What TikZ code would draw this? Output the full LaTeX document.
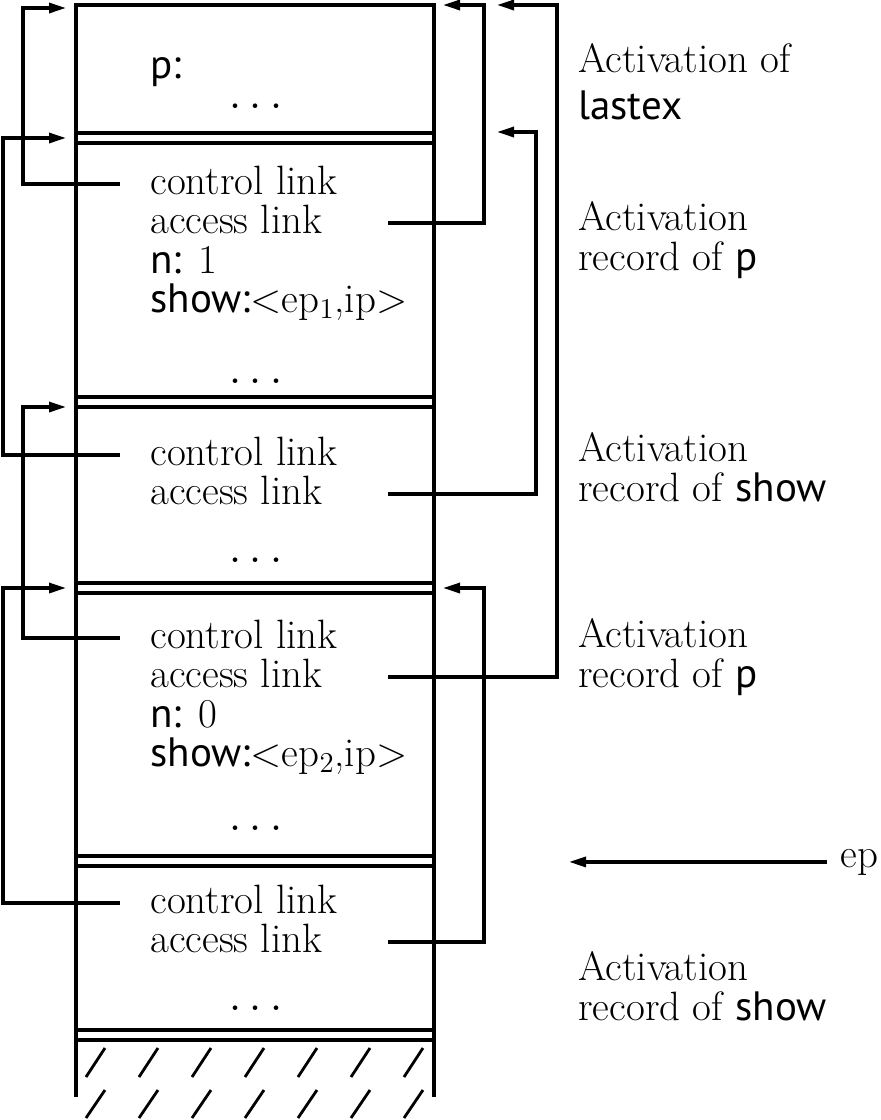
\documentclass[tikz,border=0pt]{standalone}
\usepackage{fontspec}
\newfontfamily\codefont{PT Sans}
\usetikzlibrary{arrows.meta,positioning,calc}
\newcommand{\recdots}{.\kern3.2pt.\kern3.2pt.}

\begin{document}
\begin{tikzpicture}[x=0.5pt, y=-0.5pt,
    frame/.style={line width=1.6pt},
    hatch/.style={line width=1.4pt},
    field/.style={anchor=base west, inner sep=0pt, font=\fontsize{20.5}{20}\selectfont},
    recname/.style={field, align=left},
    dotrow/.style={inner sep=0pt, font=\fontsize{28}{28}\selectfont},
    link/.style={-{Triangle[length=8.5pt, width=5pt]}, line width=1.6pt}]

    \useasboundingbox (0,0) rectangle (880,1120);

    \draw[frame] (76,1097) -- (76,5) -- (434,5) -- (434,1097);
    \foreach \y in {133,397,583,856,1030}
        \draw[frame] (76,\y) -- (434,\y) (76,\y+10) -- (434,\y+10);
    \foreach \x in {86,139,192,245,298,351,404} {
        \draw[hatch] (\x,1077) -- (\x+19,1048);
        \draw[hatch] (\x,1118) -- (\x+19,1090);
    }

    \node[field] (plab) at (150,78) {\codefont p:};
    \node[dotrow] (d0) at (256,106) {\recdots};

    \node[field] (cl1) at (150,194) {control link};
    \node[field] (al1) at (150,233) {access link};
    \node[field] (n1) at (150,273) {{\codefont n:} 1};
    \node[field] (sh1) at (150,312) {{\codefont show:}<ep$_1$,ip>};
    \node[dotrow] (d1) at (256,381) {\recdots};

    \node[field] (cl2) at (150,465) {control link};
    \node[field] (al2) at (150,504) {access link};
    \node[dotrow] (d2) at (256,560) {\recdots};

    \node[field] (cl3) at (150,648) {control link};
    \node[field] (al3) at (150,687) {access link};
    \node[field] (n3) at (150,727) {{\codefont n:} 0};
    \node[field] (sh3) at (150,766) {{\codefont show:}<ep$_2$,ip>};
    \node[dotrow] (d3) at (256,828) {\recdots};

    \node[field] (cl4) at (150,913) {control link};
    \node[field] (al4) at (150,952) {access link};
    \node[dotrow] (d4) at (256,1008) {\recdots};

    \node[recname] (lastex) at (578,119) {Activation of\\[3.5pt]{\codefont lastex}};
    \node[recname] (recp1) at (578,270) {Activation\\record of {\codefont p}};
    \node[recname] (recshow1) at (578,501) {Activation\\record of {\codefont show}};
    \node[recname] (recp2) at (578,687) {Activation\\record of {\codefont p}};
    \node[recname] (recshow2) at (578,1020) {Activation\\record of {\codefont show}};
    \node[field] (ep) at (840,867) {ep};

    \coordinate (cl-lastex) at (66,8);
    \coordinate (cl-p1) at (66,138);
    \coordinate (cl-show1) at (66,407);
    \coordinate (cl-p2) at (66,588);
    \coordinate (al-lastex) at (443,5);
    \coordinate (al-lastex2) at (497,5);
    \coordinate (al-p1) at (497,132);
    \coordinate (al-p2) at (443,588);
    \coordinate (ep-tip) at (569,860);

    \draw[link] ([xshift=-15pt,yshift=5pt]cl1.base west) -- ++(-97,0) |- (cl-lastex);
    \draw[link] ([xshift=-15pt,yshift=5pt]cl2.base west) -- ++(-117,0) |- (cl-p1);
    \draw[link] ([xshift=-15pt,yshift=5pt]cl3.base west) -- ++(-97,0) |- (cl-show1);
    \draw[link] ([xshift=-15pt,yshift=5pt]cl4.base west) -- ++(-117,0) |- (cl-p2);
    \draw[link] ([xshift=119pt,yshift=5pt]al1.base west) -- ++(96,0) |- (al-lastex);
    \draw[link] ([xshift=119pt,yshift=5pt]al2.base west) -- ++(148,0) |- (al-p1);
    \draw[link] ([xshift=119pt,yshift=5pt]al3.base west) -- ++(169,0) |- (al-lastex2);
    \draw[link] ([xshift=119pt,yshift=5pt]al4.base west) -- ++(96,0) |- (al-p2);
    \draw[link] ([xshift=-6.5pt]ep.west) -- (ep-tip |- ep.west);
\end{tikzpicture}
\end{document}
